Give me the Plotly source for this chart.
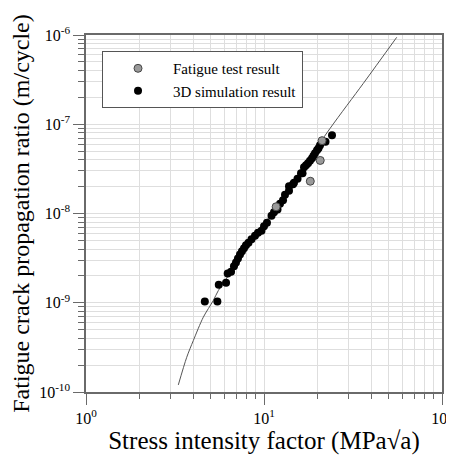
import plotly.graph_objects as go

# Fatigue test result (gray)
test_K = [11.7, 18.2, 20.7, 21.2]
test_rate = [1.19e-8, 2.30e-8, 3.93e-8, 6.55e-8]

# 3D simulation result (black)
sim_K = [4.65, 5.47, 5.57, 6.12, 6.25, 6.53, 6.78, 6.96, 7.14, 7.33, 7.52, 7.72,
         7.92, 8.18, 8.51, 8.90, 9.25, 9.68, 10.0, 10.39, 11.02, 11.38, 11.91,
         12.30, 12.79, 13.12, 13.82, 13.82, 14.55, 14.74, 15.43, 16.14, 16.46,
         16.78, 17.22, 17.67, 18.13, 18.61, 18.97, 19.34, 19.85, 20.24, 20.64,
         22.16, 24.10]
sim_rate = [1.03e-9, 1.03e-9, 1.59e-9, 1.68e-9, 2.12e-9, 2.23e-9, 2.56e-9, 2.83e-9,
            3.14e-9, 3.48e-9, 3.77e-9, 4.07e-9, 4.40e-9, 4.69e-9, 5.13e-9, 5.62e-9,
            6.07e-9, 6.39e-9, 7.18e-9, 7.86e-9, 9.42e-9, 1.03e-8, 1.11e-8, 1.29e-8,
            1.41e-8, 1.62e-8, 1.80e-8, 2.02e-8, 2.13e-8, 2.21e-8, 2.45e-8, 2.83e-8,
            2.83e-8, 3.30e-8, 3.48e-8, 3.66e-8, 3.91e-8, 4.17e-8, 4.44e-8, 4.74e-8,
            5.12e-8, 5.39e-8, 5.83e-8, 6.38e-8, 7.54e-8]

# Fitted curve
curve_K = [3.30, 3.68, 4.01, 4.56, 5.19, 5.54, 7.33, 11.7, 23.49, 36.14, 55.66]
curve_rate = [1.20e-10, 2.45e-10, 3.78e-10, 6.89e-10, 1.06e-9, 1.37e-9, 3.09e-9,
              1.19e-8, 8.97e-8, 2.87e-7, 9.42e-7]

x_tickvals = [1, 10, 100]
x_ticktext = ['10<sup>0</sup>', '10<sup>1</sup>', '10<sup>2</sup>']
y_tickvals = [1e-10, 1e-9, 1e-8, 1e-7, 1e-6]
y_ticktext = ['10<sup>-10</sup>', '10<sup>-9</sup>', '10<sup>-8</sup>', '10<sup>-7</sup>', '10<sup>-6</sup>']
x_minor = [m * d for d in (1, 10) for m in range(2, 10)]
y_minor = [m * d for d in (1e-10, 1e-9, 1e-8, 1e-7) for m in range(2, 10)]

FONT = "Liberation Serif"
GRID = "#dedede"
AXIS = "#6a6a6a"

fig = go.Figure()
fig.add_trace(go.Scatter(x=curve_K, y=curve_rate, mode="lines",
                         line=dict(color="#555555", width=1, shape="spline", smoothing=0.8),
                         showlegend=False, hoverinfo="skip"))
fig.add_trace(go.Scatter(x=sim_K, y=sim_rate, mode="markers", name="3D simulation result",
                         marker=dict(color="black", size=8, line=dict(width=0))))
fig.add_trace(go.Scatter(x=test_K, y=test_rate, mode="markers", name="Fatigue test result",
                         marker=dict(color="#9a9a9a", size=8, line=dict(color="#444444", width=1))))

axis_common = dict(type="log", showline=True, linecolor=AXIS, linewidth=1.5, mirror=True,
                   showgrid=True, gridcolor=GRID, gridwidth=1, ticks="outside",
                   ticklen=11, tickwidth=1, tickcolor=AXIS, zeroline=False,
                   tickfont=dict(family=FONT, size=16, color="black"),
                   tickmode="array", automargin=False, ticklabeloverflow="allow")

fig.update_xaxes(**axis_common, range=[0, 2], tickvals=x_tickvals, ticktext=x_ticktext,
                 minor=dict(tickmode="array", tickvals=x_minor, ticks="outside", ticklen=5,
                            tickcolor=AXIS, showgrid=True, gridcolor=GRID, gridwidth=1),
                 title=dict(text="Stress intensity factor (MPa√a)",
                            font=dict(family=FONT, size=25, color="black"), standoff=6))
fig.update_yaxes(**axis_common, range=[-10, -6], tickvals=y_tickvals, ticktext=y_ticktext,
                 minor=dict(tickmode="array", tickvals=y_minor, ticks="outside", ticklen=6,
                            tickcolor=AXIS, showgrid=True, gridcolor=GRID, gridwidth=1),
                 title=dict(text="Fatigue crack propagation ratio (m/cycle)",
                            font=dict(family=FONT, size=24, color="black"), standoff=10))

# page body has an 8px margin, so the figure is offset by (8, 8)
fig.update_layout(
    width=454, height=450,
    margin=dict(l=78, r=20, t=27, b=66),
    plot_bgcolor="white", paper_bgcolor="white",
    font=dict(family=FONT, color="black"),
    legend=dict(x=0.045, y=0.955, xanchor="left", yanchor="top",
                bgcolor="white", bordercolor="#555555", borderwidth=1,
                font=dict(family=FONT, size=15, color="black"),
                traceorder="reversed", itemwidth=60, tracegroupgap=0),
)

fig.write_html("out.html")
